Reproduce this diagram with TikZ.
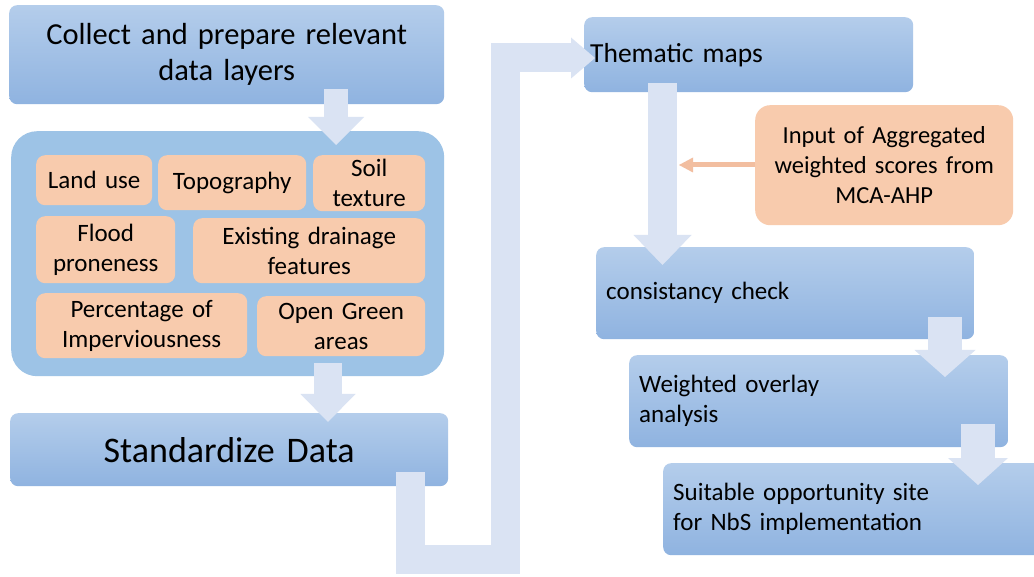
\documentclass[tikz,border=0pt]{standalone}
\usepackage{fontspec}
\setmainfont{Carlito}
\usetikzlibrary{arrows.meta}

\definecolor{boxtop}{RGB}{180,205,235}
\definecolor{boxbot}{RGB}{143,179,224}
\definecolor{panel}{RGB}{157,195,230}
\definecolor{peach}{RGB}{248,203,173}
\definecolor{flow}{RGB}{218,227,243}
\definecolor{peachline}{RGB}{242,190,160}

\tikzset{
  bluebox/.style={anchor=north west, rounded corners=8pt, top color=boxtop,
    bottom color=boxbot, draw=none, inner ysep=0pt, inner xsep=10pt},
  chip/.style={anchor=north west, rounded corners=9pt, fill=peach, draw=none,
    inner sep=0pt, align=center, font=\fontsize{25}{30}\selectfont},
  flowline/.style={draw=flow, line cap=butt, line join=miter},
  body/.style={font=\fontsize{25}{30}\selectfont}
}

\begin{document}
\begin{tikzpicture}[x=1pt, y=-1pt]
\clip (0,0) rectangle (1034,577);
\fill[white] (0,0) rectangle (1034,577);

% left column
\node[bluebox, minimum width=435pt, minimum height=99pt, text width=415pt,
  align=center, font=\fontsize{30.5}{36}\selectfont] (collect) at (9,5)
  {Collect and prepare relevant\\data layers};

\node[anchor=north west, rounded corners=26pt, fill=panel, draw=none,
  minimum width=433pt, minimum height=245pt, inner sep=0pt] (layers) at (11,131) {};

\node[chip, minimum width=116pt, minimum height=50pt, text width=112pt] (landuse) at (36,155) {Land use};
\node[chip, minimum width=148pt, minimum height=55pt, text width=144pt] (topo) at (158,155) {Topography};
\node[chip, minimum width=112pt, minimum height=56pt, text width=108pt] (soil) at (313,155) {Soil\\texture};
\node[chip, minimum width=139pt, minimum height=67pt, text width=135pt] (flood) at (36,216) {Flood\\proneness};
\node[chip, minimum width=232pt, minimum height=65pt, text width=228pt] (drain) at (193,218) {Existing drainage\\features};
\node[chip, minimum width=211pt, minimum height=65pt, text width=207pt] (imperv) at (36,293) {Percentage of\\Imperviousness};
\node[chip, minimum width=168pt, minimum height=60pt, text width=164pt] (green) at (257,296) {Open Green\\areas};

\node[bluebox, minimum width=438pt, minimum height=73pt, text width=418pt,
  align=center, font=\fontsize{36}{42}\selectfont] (standard) at (10,413)
  {Standardize Data};

% right column
\node[bluebox, minimum width=329pt, minimum height=75pt, text width=317pt,
  inner xsep=6pt, align=left, font=\fontsize{27.5}{32}\selectfont] (thematic) at (584,17)
  {Thematic maps};

\node[chip, rounded corners=15pt, minimum width=258pt, minimum height=120pt,
  text width=252pt, font=\fontsize{24.5}{30}\selectfont] (input) at (755,105)
  {Input of Aggregated\\weighted scores from\\MCA-AHP};

\node[bluebox, body, minimum width=378pt, minimum height=92pt, text width=358pt,
  align=left] (check) at (596,247) {consistancy check};
\node[bluebox, body, minimum width=379pt, minimum height=92pt, text width=359pt,
  align=left] (overlay) at (629,355) {Weighted overlay\\analysis};
\node[bluebox, body, minimum width=380pt, minimum height=92pt, text width=360pt,
  align=left] (suit) at (663,463) {Suitable opportunity site\\for NbS implementation};

% connector end points
\coordinate (c1a) at (336,89);   \coordinate (c1b) at (336,145);
\coordinate (c2a) at (328,363);  \coordinate (c2b) at (328,422);
\coordinate (b1) at (410,472);   \coordinate (b2) at (410,559.5);
\coordinate (b3) at (505,559.5); \coordinate (b4) at (505,58);
\coordinate (b5) at (595,58);
\coordinate (c3a) at (662.5,83); \coordinate (c3b) at (662.5,265);
\coordinate (c4a) at (945,317);  \coordinate (c4b) at (945,377);
\coordinate (c5a) at (978,424);  \coordinate (c5b) at (978,485);
\coordinate (inTip) at (679,165);

% block arrows
\draw[flowline, line width=24pt, -{Triangle[length=28pt,width=56pt,line width=0pt]}] (c1a) -- (c1b);
\draw[flowline, line width=28pt, -{Triangle[length=28pt,width=55pt,line width=0pt]}] (c2a) -- (c2b);
\draw[flowline, line width=29pt, -{Triangle[length=24pt,width=41pt,line width=0pt]}]
  (b1) -- (b2) -- (b3) -- (b4) -- (b5);
\draw[flowline, line width=29pt, -{Triangle[length=30pt,width=58pt,line width=0pt]}] (c3a) -- (c3b);
\draw[flowline, line width=34pt, -{Triangle[length=27pt,width=61pt,line width=0pt]}] (c4a) -- (c4b);
\draw[flowline, line width=34pt, -{Triangle[length=27pt,width=60pt,line width=0pt]}] (c5a) -- (c5b);

% weights feed
\draw[draw=peachline, line width=5pt, -{Triangle[length=14pt,width=15pt,line width=0pt]}]
  (input.west |- inTip) -- (inTip);
\end{tikzpicture}
\end{document}
